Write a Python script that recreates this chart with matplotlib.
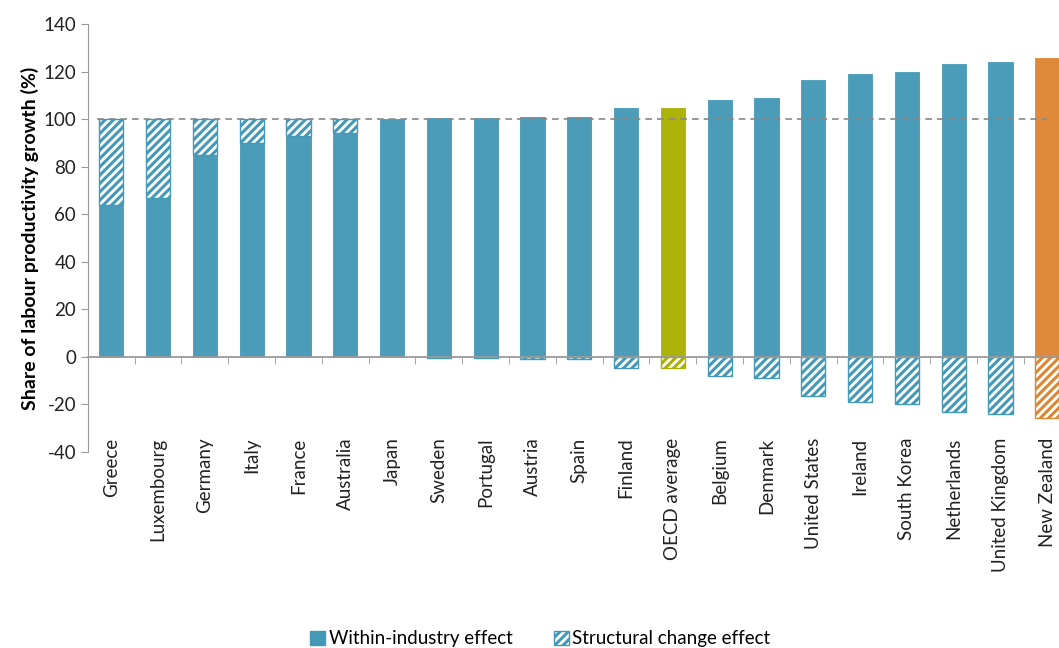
import matplotlib
matplotlib.use('Agg')
import matplotlib.pyplot as plt
from matplotlib.patches import Patch
import numpy as np

countries = ['Greece', 'Luxembourg', 'Germany', 'Italy', 'France', 'Australia',
             'Japan', 'Sweden', 'Portugal', 'Austria', 'Spain', 'Finland',
             'OECD average', 'Belgium', 'Denmark', 'United States', 'Ireland',
             'South Korea', 'Netherlands', 'United Kingdom', 'New Zealand']
within = [64, 67, 85, 90, 93, 94, 100, 100.3, 100.5, 101, 101, 104.5,
          104.5, 108, 109, 116.5, 119, 120, 123, 124, 125.5]
structural = [36, 33, 15, 10, 7, 6, 0, -0.3, -0.5, -1, -1, -4.5,
              -4.5, -8, -9, -16.5, -19, -20, -23, -24, -25.5]

blue = '#4499b7'
olive = '#a9b000'
orange = '#dd8633'
grey = '#9a9a9a'

colors = [blue] * len(countries)
colors[countries.index('OECD average')] = olive
colors[countries.index('New Zealand')] = orange

plt.rcParams['font.family'] = ['Lato', 'DejaVu Sans']
plt.rcParams['hatch.linewidth'] = 2.2
plt.rcParams['axes.unicode_minus'] = False

fig = plt.figure(figsize=(10.59, 6.48), dpi=100)
ax = fig.add_axes([0.083, 0.3025, 0.917, 0.6605])

x = np.arange(len(countries))
w = 0.52
ax.bar(x, within, w, color=colors, edgecolor=colors, linewidth=0.6, alpha=0.97, zorder=2)

# structural change: stacked on top when positive, below zero when negative
bottoms = [wv if s > 0 else 0 for wv, s in zip(within, structural)]
for xi, s, b, c in zip(x, structural, bottoms, colors):
    if s == 0:
        continue
    ax.bar(xi, s, w, bottom=b, color='white', edgecolor=c, hatch='////', linewidth=1.0, zorder=2)

ax.hlines(100, -0.3, len(countries) - 1, colors='#888888', linestyles=(0, (4, 3)), linewidth=1.2, zorder=3)

ax.set_xlim(-0.5, 20.25)
ax.set_ylim(-40, 140)
ax.set_yticks(range(-40, 141, 20))

for s in ['top', 'right']:
    ax.spines[s].set_visible(False)
ax.spines['left'].set_color(grey)
ax.spines['bottom'].set_position(('data', 0))
ax.spines['bottom'].set_color(grey)
ax.spines['bottom'].set_linewidth(1.3)
ax.spines['bottom'].set_zorder(4)

ax.set_xticks(x)
ax.set_xticklabels(countries, rotation=90, va='top', ha='center')
ax.set_xticks(x[:-1] + 0.5, minor=True)
ax.tick_params(axis='x', which='major', length=0, pad=58, labelsize=13.5, labelcolor='#222222')
ax.tick_params(axis='x', which='minor', length=5, color=grey, direction='out')
ax.tick_params(axis='y', length=5, color=grey, labelsize=13.5, labelcolor='#222222')

ax.set_ylabel('Share of labour productivity growth (%)', fontsize=14, fontweight='bold', labelpad=3)

handles = [Patch(facecolor=blue, edgecolor=blue, label='Within-industry effect'),
           Patch(facecolor='white', edgecolor=blue, hatch='////', label='Structural change effect')]
fig.legend(handles=handles, loc='lower center', bbox_to_anchor=(0.51, -0.025), ncol=2,
           frameon=False, fontsize=13.5, handlelength=0.8, handleheight=0.8,
           handletextpad=0.2, columnspacing=2.2)

fig.savefig('out.png', dpi=100)
